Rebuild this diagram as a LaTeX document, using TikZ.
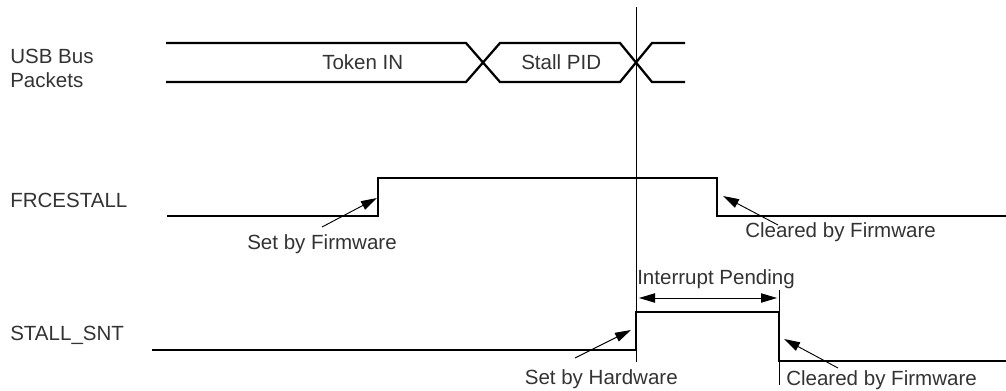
\documentclass[tikz,border=0pt]{standalone}
\usepackage{fontspec}
\setmainfont{Liberation Sans}
\usetikzlibrary{arrows.meta}

\begin{document}
\begin{tikzpicture}[x=0.75pt, y=-0.75pt,
        font=\fontsize{15.4}{18}\selectfont,
        signal/.style={black, line width=1.7pt},
        marker/.style={black, line width=0.7pt},
        callout/.style={black, line width=0.7pt, -{Triangle[length=12pt, width=7pt]}},
        txt/.style={text=black!80, inner sep=0pt}]
        \useasboundingbox (0,0) rectangle (1006,390);

        % --- 1. Signal Names ---
        \node[txt, anchor=west, align=left] (lbl_bus) at (10,68) {USB Bus\\Packets};
        \node[txt, anchor=base west] (lbl_frc) at (10,207.5) {FRCESTALL};
        \node[txt, anchor=base west] (lbl_snt) at (10,340.5) {STALL\_SNT};

        % --- 2. USB Bus Packets ---
        \draw[signal] (166,43) -- (466,43) -- (500,82) -- (620,82) -- (652,43) -- (685,43);
        \draw[signal] (166,82) -- (466,82) -- (500,43) -- (620,43) -- (652,82) -- (685,82);
        \node[txt, anchor=base west] (tok_in) at (322,69.5) {Token IN};
        \node[txt, anchor=base west] (stall_pid) at (521,69.5) {Stall PID};

        % --- 3. FRCESTALL ---
        \coordinate (frc_rise) at (378,216);
        \coordinate (frc_fall) at (717,216);
        \draw[signal] (167,216) -- (frc_rise) -- (378,178) -- (717,178) -- (frc_fall) -- (1006,216);

        % --- 4. STALL_SNT ---
        \coordinate (snt_rise) at (636,350);
        \coordinate (snt_fall) at (779,361);
        \draw[signal] (152,350) -- (snt_rise) -- (636,312) -- (779,312) -- (snt_fall) -- (1006,361);

        % Time markers
        \coordinate (mark_a_top) at (636,7);
        \coordinate (mark_a_bot) at (636,362);
        \coordinate (mark_b_top) at (779,290);
        \coordinate (mark_b_bot) at (779,385);
        \draw[marker] (mark_a_top) -- (mark_a_bot);
        \draw[marker] (mark_b_top) -- (mark_b_bot);

        % Interrupt pending span
        \node[txt, anchor=base west] (irq_txt) at (637,284.5) {Interrupt Pending};
        \coordinate (irq_l) at (639,298);
        \coordinate (irq_r) at (777,298);
        \draw[marker, {Triangle[length=12pt, width=7pt]}-{Triangle[length=12pt, width=7pt]}] (irq_l) -- (irq_r);

        % --- 5. Callouts ---
        \node[txt, anchor=base west] (set_fw) at (247,249) {Set by Firmware};
        \coordinate (set_fw_tail) at (322,227);
        \coordinate (set_fw_tip) at (377,198);
        \draw[callout] (set_fw_tail) -- (set_fw_tip);

        \node[txt, anchor=base west] (clr_fw_a) at (745,237.5) {Cleared by Firmware};
        \coordinate (clr_fw_a_tail) at (778,225);
        \coordinate (clr_fw_a_tip) at (723,196);
        \draw[callout] (clr_fw_a_tail) -- (clr_fw_a_tip);

        \node[txt, anchor=base east] (set_hw) at (678,384.5) {Set by Hardware};
        \coordinate (set_hw_tail) at (575,358);
        \coordinate (set_hw_tip) at (631,330);
        \draw[callout] (set_hw_tail) -- (set_hw_tip);

        \node[txt, anchor=base west] (clr_fw_b) at (786,385) {Cleared by Firmware};
        \coordinate (clr_fw_b_tail) at (838,368);
        \coordinate (clr_fw_b_tip) at (784,339);
        \draw[callout] (clr_fw_b_tail) -- (clr_fw_b_tip);

    \end{tikzpicture}
\end{document}
